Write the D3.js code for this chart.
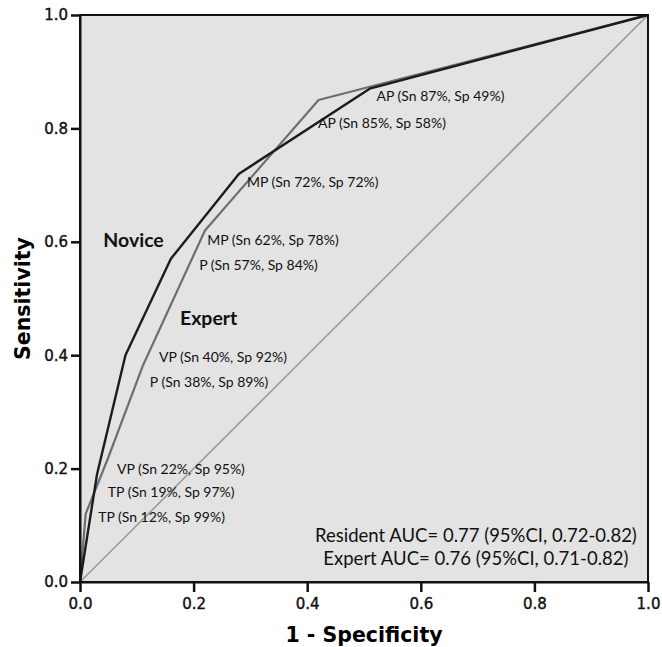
<!DOCTYPE html>
<html>
<head>
<meta charset="utf-8">
<script src="https://cdn.jsdelivr.net/npm/d3@7"></script>
<style>
  body { margin: 0; background: #fff; }
  .lbl { font-family: Lato, "Open Sans", sans-serif; font-size: 14px; fill: #111; }
  .tick text { font-family: "DejaVu Sans", sans-serif; font-size: 15px; fill: #111; stroke: #111; stroke-width: 0.4px; }
</style>
</head>
<body>
<div id="chart"></div>
<script>
// ROC points as [1 - specificity, sensitivity]
const noviceFpr = [0, 0.03, 0.08, 0.16, 0.28, 0.51, 1];
const noviceSn  = [0, 0.19, 0.40, 0.57, 0.72, 0.87, 1];
const expertFpr = [0, 0.01, 0.05, 0.11, 0.22, 0.42, 1];
const expertSn  = [0, 0.12, 0.22, 0.38, 0.62, 0.85, 1];
const ticks = [0, 0.2, 0.4, 0.6, 0.8, 1.0];

// cut-off labels: text and where the label starts (data units)
const pointLabels = [
  {text: "AP (Sn 87%, Sp 49%)", x: 0.522, y: 0.848},
  {text: "AP (Sn 85%, Sp 58%)", x: 0.419, y: 0.800},
  {text: "MP (Sn 72%, Sp 72%)", x: 0.294, y: 0.697},
  {text: "MP (Sn 62%, Sp 78%)", x: 0.224, y: 0.594},
  {text: "P (Sn 57%, Sp 84%)",  x: 0.210, y: 0.550},
  {text: "VP (Sn 40%, Sp 92%)", x: 0.139, y: 0.388},
  {text: "P (Sn 38%, Sp 89%)",  x: 0.123, y: 0.344},
  {text: "VP (Sn 22%, Sp 95%)", x: 0.065, y: 0.191},
  {text: "TP (Sn 19%, Sp 97%)", x: 0.049, y: 0.150},
  {text: "TP (Sn 12%, Sp 99%)", x: 0.032, y: 0.106}
];
const groupLabels = [
  {text: "Novice", x: 0.041, y: 0.591},
  {text: "Expert", x: 0.176, y: 0.453}
];
const aucLines = [
  "Resident AUC= 0.77 (95%CI, 0.72-0.82)",
  "Expert AUC= 0.76 (95%CI, 0.71-0.82)"
];

const width = 662, height = 647;
const margin = {top: 15, right: 14, bottom: 65, left: 80};
const w = width - margin.left - margin.right;
const h = height - margin.top - margin.bottom;

const svg = d3.select("#chart").append("svg")
    .attr("width", width)
    .attr("height", height);
const g = svg.append("g")
    .attr("transform", `translate(${margin.left},${margin.top})`);

const x = d3.scaleLinear().domain([0, 1]).range([0, w]);
const y = d3.scaleLinear().domain([0, 1]).range([h, 0]);

g.append("rect")
    .attr("width", w).attr("height", h)
    .attr("fill", "#e3e3e3");

const line = d3.line().x(d => x(d[0])).y(d => y(d[1]));

// reference diagonal
g.append("path")
    .attr("d", line([[0, 0], [1, 1]]))
    .attr("fill", "none").attr("stroke", "#9a9a9a").attr("stroke-width", 1.6);

g.append("path")
    .attr("d", line(expertFpr.map((v, i) => [v, expertSn[i]])))
    .attr("fill", "none").attr("stroke", "#6e6e6e").attr("stroke-width", 2.2)
    .attr("stroke-linejoin", "round");

g.append("path")
    .attr("d", line(noviceFpr.map((v, i) => [v, noviceSn[i]])))
    .attr("fill", "none").attr("stroke", "#1c1c1c").attr("stroke-width", 2.4)
    .attr("stroke-linejoin", "round");

g.selectAll(".lbl.pt").data(pointLabels).enter().append("text")
    .attr("class", "lbl pt")
    .attr("x", d => x(d.x)).attr("y", d => y(d.y))
    .text(d => d.text);

g.selectAll(".grp").data(groupLabels).enter().append("text")
    .attr("class", "lbl grp")
    .attr("x", d => x(d.x)).attr("y", d => y(d.y))
    .style("font-size", "19.5px").style("font-weight", "bold")
    .text(d => d.text);

g.selectAll(".auc").data(aucLines).enter().append("text")
    .attr("class", "lbl auc")
    .attr("x", x(0.697)).attr("y", (d, i) => y(0.071) + i * 23)
    .attr("text-anchor", "middle")
    .style("font-size", "18.5px")
    .text(d => d);

// frame
g.append("rect")
    .attr("width", w).attr("height", h)
    .attr("fill", "none").attr("stroke", "#111").attr("stroke-width", 2);

const xAxis = g.append("g")
    .attr("transform", `translate(0,${h})`)
    .call(d3.axisBottom(x).tickValues(ticks).tickFormat(d3.format(".1f")).tickSize(10).tickSizeOuter(0).tickPadding(6));
const yAxis = g.append("g")
    .call(d3.axisLeft(y).tickValues(ticks).tickFormat(d3.format(".1f")).tickSize(9).tickSizeOuter(0).tickPadding(3));
[xAxis, yAxis].forEach(a => {
  a.select(".domain").attr("stroke", "#111").attr("stroke-width", 2);
  a.selectAll(".tick line").attr("stroke", "#111").attr("stroke-width", 2.5);
});

svg.append("text")
    .attr("x", margin.left + w / 2).attr("y", 642)
    .attr("text-anchor", "middle")
    .style("font-family", "'DejaVu Sans', sans-serif")
    .style("font-size", "20.5px").style("font-weight", "bold")
    .text("1 - Specificity");

svg.append("text")
    .attr("transform", `translate(30,${margin.top + h / 2}) rotate(-90)`)
    .attr("text-anchor", "middle")
    .style("font-family", "'DejaVu Sans', sans-serif")
    .style("font-size", "20.5px").style("font-weight", "bold")
    .text("Sensitivity");
</script>
</body>
</html>
